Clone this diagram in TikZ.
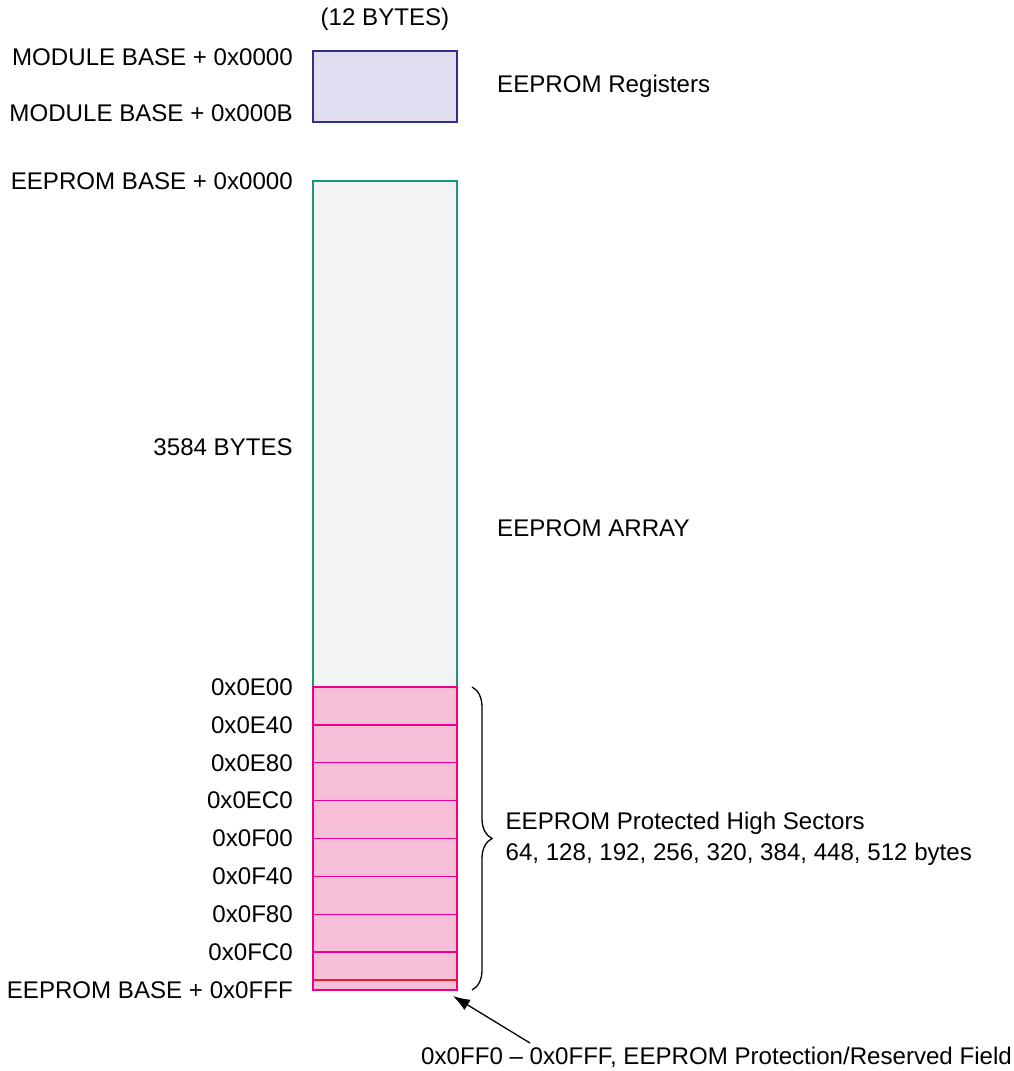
\documentclass[tikz,border=0pt]{standalone}
\usepackage{xcolor}
\usepackage{fontspec}
\setmainfont{Liberation Sans}
\usetikzlibrary{positioning, arrows.meta, decorations.pathreplacing}

\definecolor{regfill}{HTML}{E0DEF0}
\definecolor{regdraw}{HTML}{2E3192}
\definecolor{arrfill}{HTML}{F2F4F3}
\definecolor{arrdraw}{HTML}{16967A}
\definecolor{secfill}{HTML}{F7BED8}
\definecolor{secdraw}{HTML}{EC008C}
\definecolor{resdraw}{HTML}{ED1C24}

\begin{document}
\begin{tikzpicture}[x=1pt, y=-1pt, font=\fontsize{24.1}{31}\selectfont]
    % Define the style for the nodes
    \tikzstyle{block} = [rectangle, draw, line width=1.3pt, inner sep=0pt, outer sep=0pt, minimum width=144pt]
    \tikzstyle{regs} = [block, fill=regfill, draw=regdraw, minimum height=71pt]
    \tikzstyle{array} = [block, fill=arrfill, draw=arrdraw, minimum height=506pt]
    \tikzstyle{sector} = [block, fill=secfill, draw=secdraw, minimum height=37.875pt]
    \tikzstyle{addr} = [anchor=east, inner sep=0pt]
    \tikzstyle{note} = [anchor=west, inner sep=0pt, align=left]
    \tikzstyle{line} = [draw, -{Latex[length=17pt, width=12pt]}, line width=1.3pt]
    \tikzstyle{brace} = [draw, line width=1.3pt, decorate, decoration={brace, amplitude=20pt, aspect=0.5}]

    \useasboundingbox (0,0) rectangle (1014,1071);

    % Place the nodes
    \node [regs] (registers) at (385, 86.5) {};
    \node [inner sep=0pt, above=20pt of registers] (regsize) {(12 BYTES)};
    \node [addr, left=20pt of registers.north west, yshift=-6pt] (modstart) {MODULE BASE + 0x0000};
    \node [addr, left=20pt of registers.south west, yshift=9pt] (modend) {MODULE BASE + 0x000B};
    \node [note, right=40pt of registers.east] (regname) {EEPROM Registers};

    \node [array] (eearray) at (385, 434) {};
    \node [addr, left=20pt of eearray.north west] (eestart) {EEPROM BASE + 0x0000};
    \node [addr] (arrsize) at (293, 447) {3584 BYTES};
    \node [note] (arrname) at (497, 528) {EEPROM ARRAY};

    \foreach \i/\addr in {1/0x0E00, 2/0x0E40, 3/0x0E80, 4/0x0EC0, 5/0x0F00, 6/0x0F40, 7/0x0F80, 8/0x0FC0} {
        \node [sector] (sec\i) at (385, {687 + (\i - 0.5)*37.875}) {};
        \node [addr, left=20pt of sec\i.north west] (addr\i) {\addr};
    }
    \node [block, fill=secfill, draw=secdraw, minimum height=10pt, anchor=south] (resv) at (sec8.south) {};
    \draw [resdraw, line width=1.5pt] (resv.north west) -- (resv.north east);
    \node [addr, left=20pt of resv.south west] (eeend) {EEPROM BASE + 0x0FFF};

    \node [note] (resvname) at (421, 1057) {0x0FF0 -- 0x0FFF, EEPROM Protection/Reserved Field};
    \coordinate (resvtail) at (530, 1043);

    % Connect the nodes with paths
    \path [brace] ([xshift=15pt]sec1.north east) -- ([xshift=15pt]resv.south east)
        node [note, midway, xshift=33pt] (protname) {EEPROM Protected High Sectors\\64, 128, 192, 256, 320, 384, 448, 512 bytes};
    \path [line] (resvtail) -- ([xshift=-4pt, yshift=-6pt]resv.south east);
\end{tikzpicture}
\end{document}
